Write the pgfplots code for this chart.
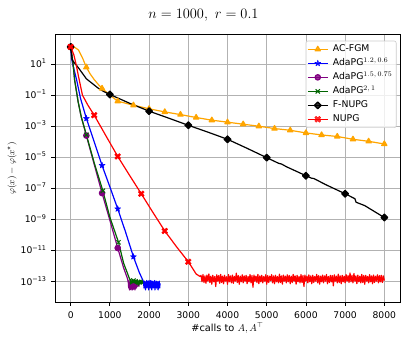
\documentclass[border=0pt]{standalone}
\usepackage{fontspec}
\setmainfont{DejaVu Sans}
\usepackage{pgfplots}
\pgfplotsset{compat=1.18}

\definecolor{cOrange}{HTML}{FFA500}
\definecolor{cBlue}{HTML}{0000FF}
\definecolor{cPurple}{HTML}{800080}
\definecolor{cGreen}{HTML}{006400}
\definecolor{cRed}{HTML}{FF0000}

% filled five-pointed star
\pgfdeclareplotmark{fstar}{%
  \pgfpathmoveto{\pgfpoint{0pt}{\pgfplotmarksize}}%
  \pgfpathlineto{\pgfpoint{-0.235\pgfplotmarksize}{0.324\pgfplotmarksize}}%
  \pgfpathlineto{\pgfpoint{-0.951\pgfplotmarksize}{0.309\pgfplotmarksize}}%
  \pgfpathlineto{\pgfpoint{-0.380\pgfplotmarksize}{-0.124\pgfplotmarksize}}%
  \pgfpathlineto{\pgfpoint{-0.588\pgfplotmarksize}{-0.809\pgfplotmarksize}}%
  \pgfpathlineto{\pgfpoint{0pt}{-0.4\pgfplotmarksize}}%
  \pgfpathlineto{\pgfpoint{0.588\pgfplotmarksize}{-0.809\pgfplotmarksize}}%
  \pgfpathlineto{\pgfpoint{0.380\pgfplotmarksize}{-0.124\pgfplotmarksize}}%
  \pgfpathlineto{\pgfpoint{0.951\pgfplotmarksize}{0.309\pgfplotmarksize}}%
  \pgfpathlineto{\pgfpoint{0.235\pgfplotmarksize}{0.324\pgfplotmarksize}}%
  \pgfpathclose
  \pgfusepathqfillstroke
}
% filled X
\pgfdeclareplotmark{fatx}{%
  \pgfpathmoveto{\pgfpoint{-0.495\pgfplotmarksize}{0.919\pgfplotmarksize}}%
  \pgfpathlineto{\pgfpoint{0pt}{0.424\pgfplotmarksize}}%
  \pgfpathlineto{\pgfpoint{0.495\pgfplotmarksize}{0.919\pgfplotmarksize}}%
  \pgfpathlineto{\pgfpoint{0.919\pgfplotmarksize}{0.495\pgfplotmarksize}}%
  \pgfpathlineto{\pgfpoint{0.424\pgfplotmarksize}{0pt}}%
  \pgfpathlineto{\pgfpoint{0.919\pgfplotmarksize}{-0.495\pgfplotmarksize}}%
  \pgfpathlineto{\pgfpoint{0.495\pgfplotmarksize}{-0.919\pgfplotmarksize}}%
  \pgfpathlineto{\pgfpoint{0pt}{-0.424\pgfplotmarksize}}%
  \pgfpathlineto{\pgfpoint{-0.495\pgfplotmarksize}{-0.919\pgfplotmarksize}}%
  \pgfpathlineto{\pgfpoint{-0.919\pgfplotmarksize}{-0.495\pgfplotmarksize}}%
  \pgfpathlineto{\pgfpoint{-0.424\pgfplotmarksize}{0pt}}%
  \pgfpathlineto{\pgfpoint{-0.919\pgfplotmarksize}{0.495\pgfplotmarksize}}%
  \pgfpathclose
  \pgfusepathqfillstroke
}

\begin{document}
\begin{tikzpicture}
\begin{axis}[
  scale only axis,
  width=345pt, height=268pt,
  xmin=-400, xmax=8400,
  ymode=log, ymin=4.8e-15, ymax=813,
  xtick={0,1000,2000,3000,4000,5000,6000,7000,8000},
  xticklabels={0,1000,2000,3000,4000,5000,6000,7000,8000},
  ytick={1e1,1e-1,1e-3,1e-5,1e-7,1e-9,1e-11,1e-13},
  yticklabels={10\textsuperscript{1},10\textsuperscript{−1},10\textsuperscript{−3},10\textsuperscript{−5},10\textsuperscript{−7},10\textsuperscript{−9},10\textsuperscript{−11},10\textsuperscript{−13}},
  tick pos=left, tick align=outside,
  major tick length=3.5pt,
  tick style={black, line width=0.8pt},
  axis line style={line width=0.8pt},
  grid=major,
  major grid style={gray!60, line width=0.7pt},
  tick label style={font=\fontsize{9.2}{11}\selectfont},
  xticklabel style={anchor=base, yshift=-12.5pt},
  yticklabel style={anchor=base east, yshift=-3.3pt, xshift=-1.5pt},
  title={$n = 1000,\ r = 0.1$},
  every axis title/.style={at={(axis description cs:0.4304,1.0597)}, anchor=base, font=\fontsize{14}{16}\selectfont},
  xlabel={\#calls to $A, A^\top$},
  every axis x label/.style={at={(axis description cs:0.5,-0.1075)}, anchor=base, font=\fontsize{9.8}{11}\selectfont},
  ylabel={$\varphi(x) - \varphi(x^\star)$},
  every axis y label/.style={at={(axis description cs:-0.1246,0.5)}, rotate=90, anchor=center, font=\fontsize{9.5}{11}\selectfont},
  legend cell align=left,
  legend style={at={(axis description cs:0.9899,0.976)}, anchor=north east,
    draw=black!20, line width=0.6pt, rounded corners=2pt,
    fill=white, fill opacity=0.8, text opacity=1,
    inner sep=1.3pt, row sep=0pt, column sep=2pt,
    font=\fontsize{9.3}{11}\selectfont,
    nodes={inner sep=2.5pt, text height=7pt, text depth=2pt}},
  legend image code/.code={\draw[#1,mark indices={2}] plot coordinates {(0pt,0pt) (10pt,0pt) (20pt,0pt)};},
  every axis plot/.append style={line width=1.2pt, line join=round},
]
% AC-FGM
\addplot[cOrange, mark=triangle*, mark size=3pt, mark options={solid, fill=cOrange},
  mark indices={1,5,9,11,13,14,15,16,17,18,19,20,21,22,23,24,25,26,27,28,29}] coordinates {
  (0,126) (100,120) (200,79) (300,25.1) (400,6.17) (500,2.24) (600,1.0) (700,0.5)
  (800,0.269) (1000,0.1) (1200,0.0407) (1400,0.0302) (1600,0.0224) (2000,0.0132)
  (2400,0.0083) (2800,0.00562) (3200,0.00363) (3600,0.00245) (4000,0.00182)
  (4400,0.00135) (4800,0.001) (5200,7.08e-4) (5600,5.5e-4) (6000,3.72e-4)
  (6400,2.75e-4) (6800,2.19e-4) (7200,1.45e-4) (7600,1.07e-4) (8000,7.24e-5)
};
\addlegendentry{AC-FGM}
% AdaPG 1.2, 0.6
\addplot[cBlue, mark=fstar, mark size=3.2pt, mark options={solid, fill=cBlue, line width=0.4pt},
  mark indices={1,7,9,11,13,30}] table {
0 126
20 25.1
50 10
80 5.01
150 1.0
250 0.063
400 3.16e-3
600 1e-4
800 3.02e-6
1000 1.26e-7
1200 4.9e-9
1400 1.58e-10
1600 4.07e-12
1750 3.98e-13
1850 1.12e-13
1860 0.9e-13
1870 0.4e-13
1880 1.1e-13
1890 0.5e-13
1900 0.8e-13
1910 0.3e-13
1920 1.0e-13
1930 0.5e-13
1940 1.2e-13
1950 0.4e-13
1960 0.9e-13
1970 0.6e-13
1980 1.1e-13
1990 0.3e-13
2000 0.8e-13
2010 0.5e-13
2020 1.0e-13
2030 0.4e-13
2040 1.2e-13
2050 0.6e-13
2060 0.9e-13
2070 0.3e-13
2080 1.1e-13
2090 0.5e-13
2100 0.8e-13
2110 0.4e-13
2120 1.0e-13
2130 0.6e-13
2140 1.2e-13
2150 0.3e-13
2160 0.9e-13
2170 0.5e-13
2180 1.1e-13
2190 0.4e-13
2200 0.8e-13
2210 0.6e-13
2220 1.0e-13
2230 0.3e-13
2240 0.9e-13
2250 0.5e-13
2260 1.1e-13
2270 0.4e-13
2280 0.8e-13
};
\addlegendentry{AdaPG$^{1.2,\,0.6}$}
% AdaPG 1.5, 0.75
\addplot[cPurple, mark=*, mark size=2.7pt, mark options={solid, fill=cPurple},
  mark indices={1,6,8,10,26}] table {
0 126
60 11.2
100 1.0
190 0.0372
270 3.98e-3
400 2.51e-4
600 3.55e-6
800 5.01e-8
1000 8.9e-10
1200 1.48e-11
1350 7.94e-13
1450 1.58e-13
1470 0.9e-13
1480 0.4e-13
1490 1.2e-13
1500 0.3e-13
1510 0.8e-13
1520 0.5e-13
1530 1.1e-13
1540 0.3e-13
1550 0.7e-13
1560 0.4e-13
1570 1.0e-13
1580 0.3e-13
1590 0.9e-13
1600 0.5e-13
1610 1.2e-13
1620 0.4e-13
1630 0.8e-13
1640 0.3e-13
1650 1.0e-13
1660 0.6e-13
1670 1.1e-13
1680 0.4e-13
1690 0.9e-13
1700 0.5e-13
1710 1.0e-13
1720 0.6e-13
1730 0.9e-13
1740 0.5e-13
1750 0.8e-13
};
\addlegendentry{AdaPG$^{1.5,\,0.75}$}
% AdaPG 2, 1
\addplot[cGreen, mark=x, mark size=3pt, mark options={solid, line width=1pt},
  mark indices={1,6,8,10,21}] table {
0 126
60 11.2
100 0.93
190 0.0372
270 3.98e-3
400 2.82e-4
600 4.47e-6
820 7.08e-8
1000 1.41e-9
1220 3.47e-11
1350 1.58e-12
1500 1.58e-13
1520 1.2e-13
1530 0.7e-13
1540 1.4e-13
1550 0.8e-13
1560 1.1e-13
1570 0.6e-13
1580 1.3e-13
1590 0.8e-13
1600 1.2e-13
1610 0.7e-13
1620 1.4e-13
1630 0.9e-13
1640 1.1e-13
1650 0.6e-13
1660 1.3e-13
1670 0.8e-13
1680 1.2e-13
1690 0.7e-13
1700 1.4e-13
1710 0.9e-13
1720 1.2e-13
1730 0.6e-13
1740 1.1e-13
1750 0.8e-13
1760 1.3e-13
1770 0.7e-13
1780 1.2e-13
1790 0.9e-13
1800 1.1e-13
1810 0.7e-13
1820 1.3e-13
1830 0.8e-13
1840 1.0e-13
};
\addlegendentry{AdaPG$^{2,\,1}$}
% F-NUPG
\addplot[black, mark=square*, mark size=2.4pt, mark options={solid, rotate=45, fill=black},
  mark indices={1,10,12,14,16,18,22,26,30}] coordinates {
  (0,126) (40,18.2) (100,11.5) (200,5.62) (300,2.51) (400,1.12) (550,0.562)
  (700,0.282) (850,0.166) (1000,0.11) (1500,0.0302) (2000,0.0093) (2500,0.00331)
  (3000,0.00115) (3500,4.17e-4) (4000,1.45e-4) (4500,3.8e-5) (5000,9.55e-6)
  (5300,4.17e-6) (5380,3.7e-6) (5500,2.51e-6) (6000,6.6e-7) (6150,4.5e-7)
  (6200,4.4e-7) (6500,1.78e-7) (7000,4.57e-8) (7250,2.2e-8) (7280,1.3e-8)
  (7500,7.9e-9) (8000,1.35e-9)
};
\addlegendentry{F-NUPG}
% NUPG
\addplot[cRed, mark=fatx, mark size=3.3pt, mark options={solid, fill=cRed, line width=0.3pt},
  mark indices={1,7,9,11,13,15}] table {
0 126
80 39.8
145 7.94
200 1.58
300 0.1
440 0.0224
600 5.13e-3
900 2.4e-4
1200 1.15e-5
1500 7.08e-7
1800 4.57e-8
2100 2.82e-9
2400 1.86e-10
2700 1.78e-11
3000 1.95e-12
3100 7.94e-13
3200 3.16e-13
3300 2.2e-13
3325 2.6e-13
3350 1.0e-13
3375 2.9e-13
3400 0.9e-13
3425 2.4e-13
3450 0.8e-13
3475 2.7e-13
3500 1.1e-13
3525 3.2e-13
3550 0.9e-13
3575 2.3e-13
3600 0.7e-13
3625 2.6e-13
3650 1.0e-13
3675 2.2e-13
3700 0.5e-13
3725 2.8e-13
3750 1.1e-13
3775 2.5e-13
3800 0.8e-13
3825 3.0e-13
3850 0.9e-13
3875 2.3e-13
3900 0.75e-13
3925 2.6e-13
3950 1.1e-13
3975 2.1e-13
4000 0.7e-13
4025 2.9e-13
4050 1.0e-13
4075 2.4e-13
4100 0.85e-13
4125 2.7e-13
4150 0.8e-13
4175 2.2e-13
4200 1.1e-13
4225 3.6e-13
4250 0.9e-13
4275 2.5e-13
4300 0.7e-13
4325 2.3e-13
4350 1.0e-13
4375 2.8e-13
4400 0.85e-13
4425 2.4e-13
4450 1.1e-13
4475 2.6e-13
4500 0.75e-13
4525 2.2e-13
4550 1.0e-13
4575 2.9e-13
4600 0.85e-13
4625 2.5e-13
4650 0.45e-13
4675 2.7e-13
4700 1.1e-13
4725 2.3e-13
4750 0.9e-13
4775 3.0e-13
4800 0.75e-13
4825 2.4e-13
4850 1.0e-13
4875 2.6e-13
4900 0.85e-13
4925 2.2e-13
4950 1.1e-13
4975 2.8e-13
5000 0.7e-13
5025 2.5e-13
5050 0.9e-13
5075 2.3e-13
5100 1.2e-13
5125 2.9e-13
5150 0.85e-13
5175 2.4e-13
5200 0.75e-13
5225 2.6e-13
5250 1.0e-13
5275 2.2e-13
5300 0.85e-13
5325 3.1e-13
5350 0.9e-13
5375 2.4e-13
5400 0.7e-13
5425 2.7e-13
5450 1.1e-13
5475 2.3e-13
5500 0.85e-13
5525 2.8e-13
5550 1.0e-13
5575 2.5e-13
5600 0.75e-13
5625 2.3e-13
5650 0.9e-13
5675 3.0e-13
5700 1.1e-13
5725 2.4e-13
5750 0.7e-13
5775 2.6e-13
5800 1.0e-13
5825 2.2e-13
5850 0.85e-13
5875 2.9e-13
5900 0.9e-13
5925 2.5e-13
5950 0.5e-13
5975 2.7e-13
6000 1.1e-13
6025 2.3e-13
6050 0.85e-13
6075 2.8e-13
6100 1.0e-13
6125 2.4e-13
6150 0.75e-13
6175 2.6e-13
6200 0.9e-13
6225 2.2e-13
6250 1.1e-13
6275 3.0e-13
6300 0.85e-13
6325 2.5e-13
6350 0.7e-13
6375 2.3e-13
6400 1.0e-13
6425 2.7e-13
6450 0.85e-13
6475 2.4e-13
6500 1.1e-13
6525 2.9e-13
6550 0.75e-13
6575 2.2e-13
6600 0.9e-13
6625 2.6e-13
6650 1.0e-13
6675 2.5e-13
6700 0.55e-13
6725 2.8e-13
6750 1.1e-13
6775 2.3e-13
6800 0.85e-13
6825 3.1e-13
6850 0.9e-13
6875 2.4e-13
6900 0.75e-13
6925 2.6e-13
6950 1.0e-13
6975 2.3e-13
7000 0.85e-13
7025 2.9e-13
7050 1.1e-13
7075 2.5e-13
7100 0.9e-13
7125 3.7e-13
7150 1.0e-13
7175 2.6e-13
7200 0.85e-13
7225 3.4e-13
7250 1.1e-13
7275 2.4e-13
7300 0.75e-13
7325 2.7e-13
7350 1.0e-13
7375 2.3e-13
7400 0.85e-13
7425 3.0e-13
7450 0.9e-13
7475 2.5e-13
7500 0.7e-13
7525 2.6e-13
7550 1.1e-13
7575 2.2e-13
7600 0.85e-13
7625 2.9e-13
7650 1.0e-13
7675 2.4e-13
7700 0.75e-13
7725 2.7e-13
7750 0.9e-13
7775 2.3e-13
7800 1.1e-13
7825 2.8e-13
7850 0.85e-13
7875 2.5e-13
7900 1.0e-13
7925 2.6e-13
7950 0.9e-13
7975 2.4e-13
8000 1.2e-13
};
\addlegendentry{NUPG}
\coordinate (sw) at (rel axis cs:0,0);
\coordinate (ne) at (rel axis cs:1,1);
\end{axis}
\pgfresetboundingbox
\path[use as bounding box] ([shift={(-55pt,-38pt)}]sw) rectangle ([shift={(7pt,34.3pt)}]ne);
\end{tikzpicture}
\end{document}
